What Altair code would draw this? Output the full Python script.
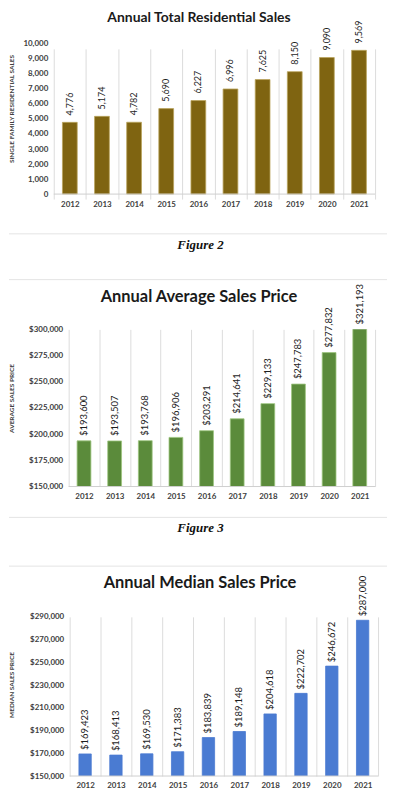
import altair as alt
import pandas as pd

years = ["2012", "2013", "2014", "2015", "2016", "2017", "2018", "2019", "2020", "2021"]
total_sales = [4776, 5174, 4782, 5690, 6227, 6996, 7625, 8150, 9090, 9569]
avg_price = [193600, 193507, 193768, 196906, 203291, 214641, 229133, 247783, 277832, 321193]
median_price = [169423, 168413, 169530, 171383, 183839, 189148, 204618, 222702, 246672, 287000]

sales_ticks = [0, 1000, 2000, 3000, 4000, 5000, 6000, 7000, 8000, 9000, 10000]
avg_ticks = [150000, 175000, 200000, 225000, 250000, 275000, 300000]
median_ticks = [150000, 170000, 190000, 210000, 230000, 250000, 270000, 290000]

FONT = "Lato"
LINE = "#e4e4e4"
ONE = pd.DataFrame({"k": [0]})


def hline(x0, x1, y, color=LINE):
    return alt.Chart(ONE).mark_rule(color=color, strokeWidth=1).encode(
        x=alt.value(x0), x2=alt.value(x1), y=alt.value(y)
    )


def title_mark(text, size, x, y):
    return alt.Chart(ONE).mark_text(
        font=FONT, fontSize=size, fontWeight="bold", color="#1a1a1a",
        align="center", baseline="middle"
    ).encode(x=alt.value(x), y=alt.value(y), text=alt.value(text))


def panel(values, ticks, color, stroke, title, title_size, title_x, title_y,
          ytitle, ytitle_x, ytitle_y, fmt, width, height, plot_h, xr, yoff, frac, gap, lsize,
          caption=None, cap_y=0, rules=()):
    lo, hi = ticks[0], ticks[-1]
    df = pd.DataFrame({"year": years, "value": values})
    xaxis = dict(labelAngle=0, labelFont=FONT, labelFontWeight="bold", labelFontSize=8,
                 labelColor="#404040", labelPadding=6, domain=False, ticks=False,
                 grid=True, gridColor="#dcdcdc", gridWidth=1, tickBand="extent",
                 offset=plot_h - height)
    if caption:
        xaxis.update(title=caption, titleFont="Liberation Serif", titleFontStyle="italic",
                     titleFontWeight="bold", titleFontSize=13, titleColor="#111111",
                     titleX=147, titleY=cap_y, titleAlign="center", titleBaseline="middle")
    else:
        xaxis.update(title=None)
    xaxis = alt.Axis(**xaxis)
    xscale = alt.Scale(range=xr, paddingInner=0, paddingOuter=0)
    yscale = alt.Scale(domain=[lo, hi], zero=False, nice=False, range=[plot_h, 0])
    yaxis = alt.Axis(values=ticks, format=fmt, grid=False, domain=False, ticks=False,
                     labelFont=FONT, labelFontWeight="bold", labelFontSize=8,
                     labelColor="#404040", labelPadding=6, offset=yoff,
                     title=ytitle, titleFont=FONT, titleFontWeight="bold", titleFontSize=6.5,
                     titleColor="#404040", titleAngle=270, titleX=ytitle_x, titleY=ytitle_y,
                     titleAlign="center", titleBaseline="middle")
    base = alt.Chart(df)
    bars = base.mark_bar(color=color, stroke=stroke, strokeWidth=0.8, clip=True,
                         width=alt.RelativeBandSize(frac)).encode(
        x=alt.X("year:N", sort=None, scale=xscale, axis=xaxis),
        y=alt.Y("value:Q", scale=yscale, axis=yaxis),
        y2=alt.datum(lo),
    )
    labels = base.transform_calculate(ly=f"min(datum.value, {hi})").mark_text(
        angle=270, align="left", baseline="middle", dx=gap, font=FONT, fontSize=lsize,
        color="#1e1e1e"
    ).encode(
        x=alt.X("year:N", sort=None, scale=xscale, axis=xaxis),
        y=alt.Y("ly:Q", scale=yscale, axis=yaxis),
        text=alt.Text("value:Q", format=fmt),
    )
    bottom = hline(xr[0], xr[1], plot_h, color="#cfcfcf")
    layers = [hline(*r) for r in rules] + [bars, labels, bottom,
                                           title_mark(title, title_size, title_x, title_y)]
    return alt.layer(*layers).properties(width=width, height=height)


c1 = panel(total_sales, sales_ticks, "#7f6411", "#b9a45e",
           "Annual Total Residential Sales", 14, 146, -26,
           "SINGLE FAMILY RESIDENTIAL SALES", -42, 65, ",d",
           323, 156, 151, [0, 323], 0, 0.46, 7, 9,
           caption="Figure 2", cap_y=51,
           rules=[(-45, 335, 191)])

c2 = panel(avg_price, avg_ticks, "#5b8b3b", "#9cc57e",
           "Annual Average Sales Price", 16.5, 146, -33,
           "AVERAGE SALES PRICE", -57, 69, "$,d",
           323, 158, 158, [15, 323], -15, 0.45, 5, 9.5,
           caption="Figure 3", cap_y=41,
           rules=[(-45, 335, -50), (-45, 335, 189)])

c3 = panel(median_price, median_ticks, "#4a7bd2", "#4a7bd2",
           "Annual Median Sales Price", 16.5, 147, -34,
           "MEDIAN SALES PRICE", -58, 68, "$,d",
           326, 160, 160, [16, 326], -16, 0.40, 4, 9.5,
           rules=[(-45, 335, -51)])

chart = alt.vconcat(c1, c2, c3, spacing=131, bounds="flush").properties(
    padding={"left": 0, "top": 1, "right": 0, "bottom": 0},
    background="white",
).configure_view(stroke=None)

chart.save("out.html", embed_options={"renderer": "svg", "actions": False})
